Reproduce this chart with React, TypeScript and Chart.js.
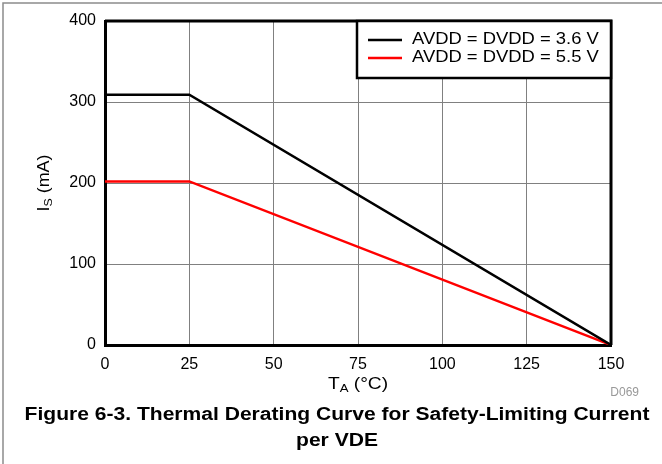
import React, { useEffect, useRef } from "react";
import { Chart, registerables } from "chart.js";

Chart.register(...registerables);

const tempsA = [0, 25, 150];
const currentA = [309, 309, 0];
const tempsB = [0, 25, 150];
const currentB = [202, 202, 0];
const seriesLabels = ["AVDD = DVDD = 3.6 V", "AVDD = DVDD = 5.5 V"];
const seriesColors = ["#000000", "#ff0000"];
const xTitle = { main: "T", sub: "A", rest: " (°C)" };
const yTitle = { main: "I", sub: "S", rest: " (mA)" };
const captionLines = [
  "Figure 6-3. Thermal Derating Curve for Safety-Limiting Current",
  "per VDE",
];
const figId = "D069";

const FONT = "'Liberation Sans', Arial, Helvetica, sans-serif";

function drawSubText(
  ctx: CanvasRenderingContext2D,
  t: { main: string; sub: string; rest: string },
  cx: number,
  cy: number,
  stretch: number
) {
  const mainFont = `16px ${FONT}`;
  const subFont = `11px ${FONT}`;
  ctx.font = mainFont;
  const w1 = ctx.measureText(t.main).width;
  const w3 = ctx.measureText(t.rest).width;
  ctx.font = subFont;
  const w2 = ctx.measureText(t.sub).width;
  ctx.save();
  ctx.translate(cx, cy);
  ctx.scale(stretch, 1);
  let x = -(w1 + w2 + w3) / 2;
  ctx.textBaseline = "alphabetic";
  ctx.textAlign = "left";
  ctx.fillStyle = "#000";
  const base = 6;
  ctx.font = mainFont;
  ctx.fillText(t.main, x, base);
  x += w1;
  ctx.font = subFont;
  ctx.fillText(t.sub, x, base + 3);
  x += w2;
  ctx.font = mainFont;
  ctx.fillText(t.rest, x, base);
  ctx.restore();
}

const decorPlugin = {
  id: "decor",
  afterDatasetsDraw(chart: any) {
    const ctx: CanvasRenderingContext2D = chart.ctx;
    const { left, right, top, bottom } = chart.chartArea;
    ctx.save();
    // full plot frame
    ctx.strokeStyle = "#000";
    ctx.lineWidth = 3;
    ctx.beginPath();
    ctx.moveTo(left, top);
    ctx.lineTo(right, top);
    ctx.lineTo(right, bottom);
    ctx.stroke();
    // legend box
    const bx = 357;
    const bw = right - bx;
    const by = top;
    const bh = 57;
    ctx.fillStyle = "#fff";
    ctx.fillRect(bx, by, bw, bh);
    ctx.strokeStyle = "#000";
    ctx.lineWidth = 2.5;
    ctx.strokeRect(bx, by, bw, bh);
    chart.data.datasets.forEach((ds: any, i: number) => {
      const y = by + 19 + i * 18;
      ctx.strokeStyle = ds.borderColor;
      ctx.lineWidth = 2.5;
      ctx.beginPath();
      ctx.moveTo(368, y);
      ctx.lineTo(402, y);
      ctx.stroke();
      ctx.save();
      ctx.translate(412, y);
      ctx.scale(1.15, 1);
      ctx.fillStyle = "#000";
      ctx.font = `16px ${FONT}`;
      ctx.textAlign = "left";
      ctx.textBaseline = "middle";
      ctx.fillText(ds.label, 0, 0);
      ctx.restore();
    });
    ctx.restore();
  },
  afterDraw(chart: any) {
    const ctx: CanvasRenderingContext2D = chart.ctx;
    const { left, right, top, bottom } = chart.chartArea;
    ctx.save();
    // outer gray frame
    ctx.strokeStyle = "#8c8c8c";
    ctx.lineWidth = 1.5;
    ctx.beginPath();
    ctx.moveTo(3, 464);
    ctx.lineTo(3, 3);
    ctx.lineTo(662, 3);
    ctx.stroke();
    // x title
    drawSubText(ctx, xTitle, (left + right) / 2, 383, 1.2);
    // y title
    ctx.save();
    ctx.translate(43, (top + bottom) / 2);
    ctx.rotate(-Math.PI / 2);
    drawSubText(ctx, yTitle, 0, 0, 1.12);
    ctx.restore();
    // figure id
    ctx.fillStyle = "#999";
    ctx.font = `12px ${FONT}`;
    ctx.textAlign = "right";
    ctx.textBaseline = "middle";
    ctx.fillText(figId, 639, 393);
    // caption
    ctx.fillStyle = "#000";
    ctx.font = `bold 18px ${FONT}`;
    ctx.textAlign = "center";
    captionLines.forEach((line, i) => {
      ctx.save();
      ctx.translate(337, 415 + i * 26);
      ctx.scale(1.17, 1);
      ctx.fillText(line, 0, 0);
      ctx.restore();
    });
    ctx.restore();
  },
};

export default function App() {
  const ref = useRef<HTMLCanvasElement | null>(null);
  useEffect(() => {
    if (!ref.current) return;
    const chart = new Chart(ref.current, {
      type: "line",
      data: {
        datasets: [
          {
            label: seriesLabels[0],
            data: tempsA.map((x, i) => ({ x, y: currentA[i] })),
            borderColor: seriesColors[0],
            backgroundColor: seriesColors[0],
            borderWidth: 2.5,
            pointRadius: 0,
            tension: 0,
          },
          {
            label: seriesLabels[1],
            data: tempsB.map((x, i) => ({ x, y: currentB[i] })),
            borderColor: seriesColors[1],
            backgroundColor: seriesColors[1],
            borderWidth: 2.5,
            pointRadius: 0,
            tension: 0,
          },
        ],
      },
      options: {
        responsive: false,
        animation: false,
        devicePixelRatio: window.devicePixelRatio || 1,
        layout: { padding: { left: 0, right: 51, top: 21, bottom: 0 } },
        plugins: {
          legend: { display: false },
          tooltip: { enabled: false },
          title: { display: false },
        },
        scales: {
          x: {
            type: "linear",
            min: 0,
            max: 150,
            afterFit: (s: any) => {
              s.height = 119;
            },
            ticks: {
              stepSize: 25,
              padding: 10,
              color: "#000",
              font: { family: FONT, size: 16 },
              maxRotation: 0,
            },
            grid: { color: "#808080", lineWidth: 1, drawTicks: false },
            border: { color: "#000", width: 3 },
          },
          y: {
            type: "linear",
            min: 0,
            max: 400,
            afterFit: (s: any) => {
              s.width = 105;
            },
            ticks: {
              stepSize: 100,
              padding: 9,
              color: "#000",
              font: { family: FONT, size: 16 },
            },
            grid: { color: "#808080", lineWidth: 1, drawTicks: false },
            border: { color: "#000", width: 3 },
          },
        },
      },
      plugins: [decorPlugin],
    } as any);
    return () => chart.destroy();
  }, []);
  return (
    <div style={{ position: "fixed", left: 0, top: 0, width: 662, height: 464, background: "#fff" }}>
      <canvas ref={ref} width={662} height={464} style={{ width: 662, height: 464 }} />
    </div>
  );
}
